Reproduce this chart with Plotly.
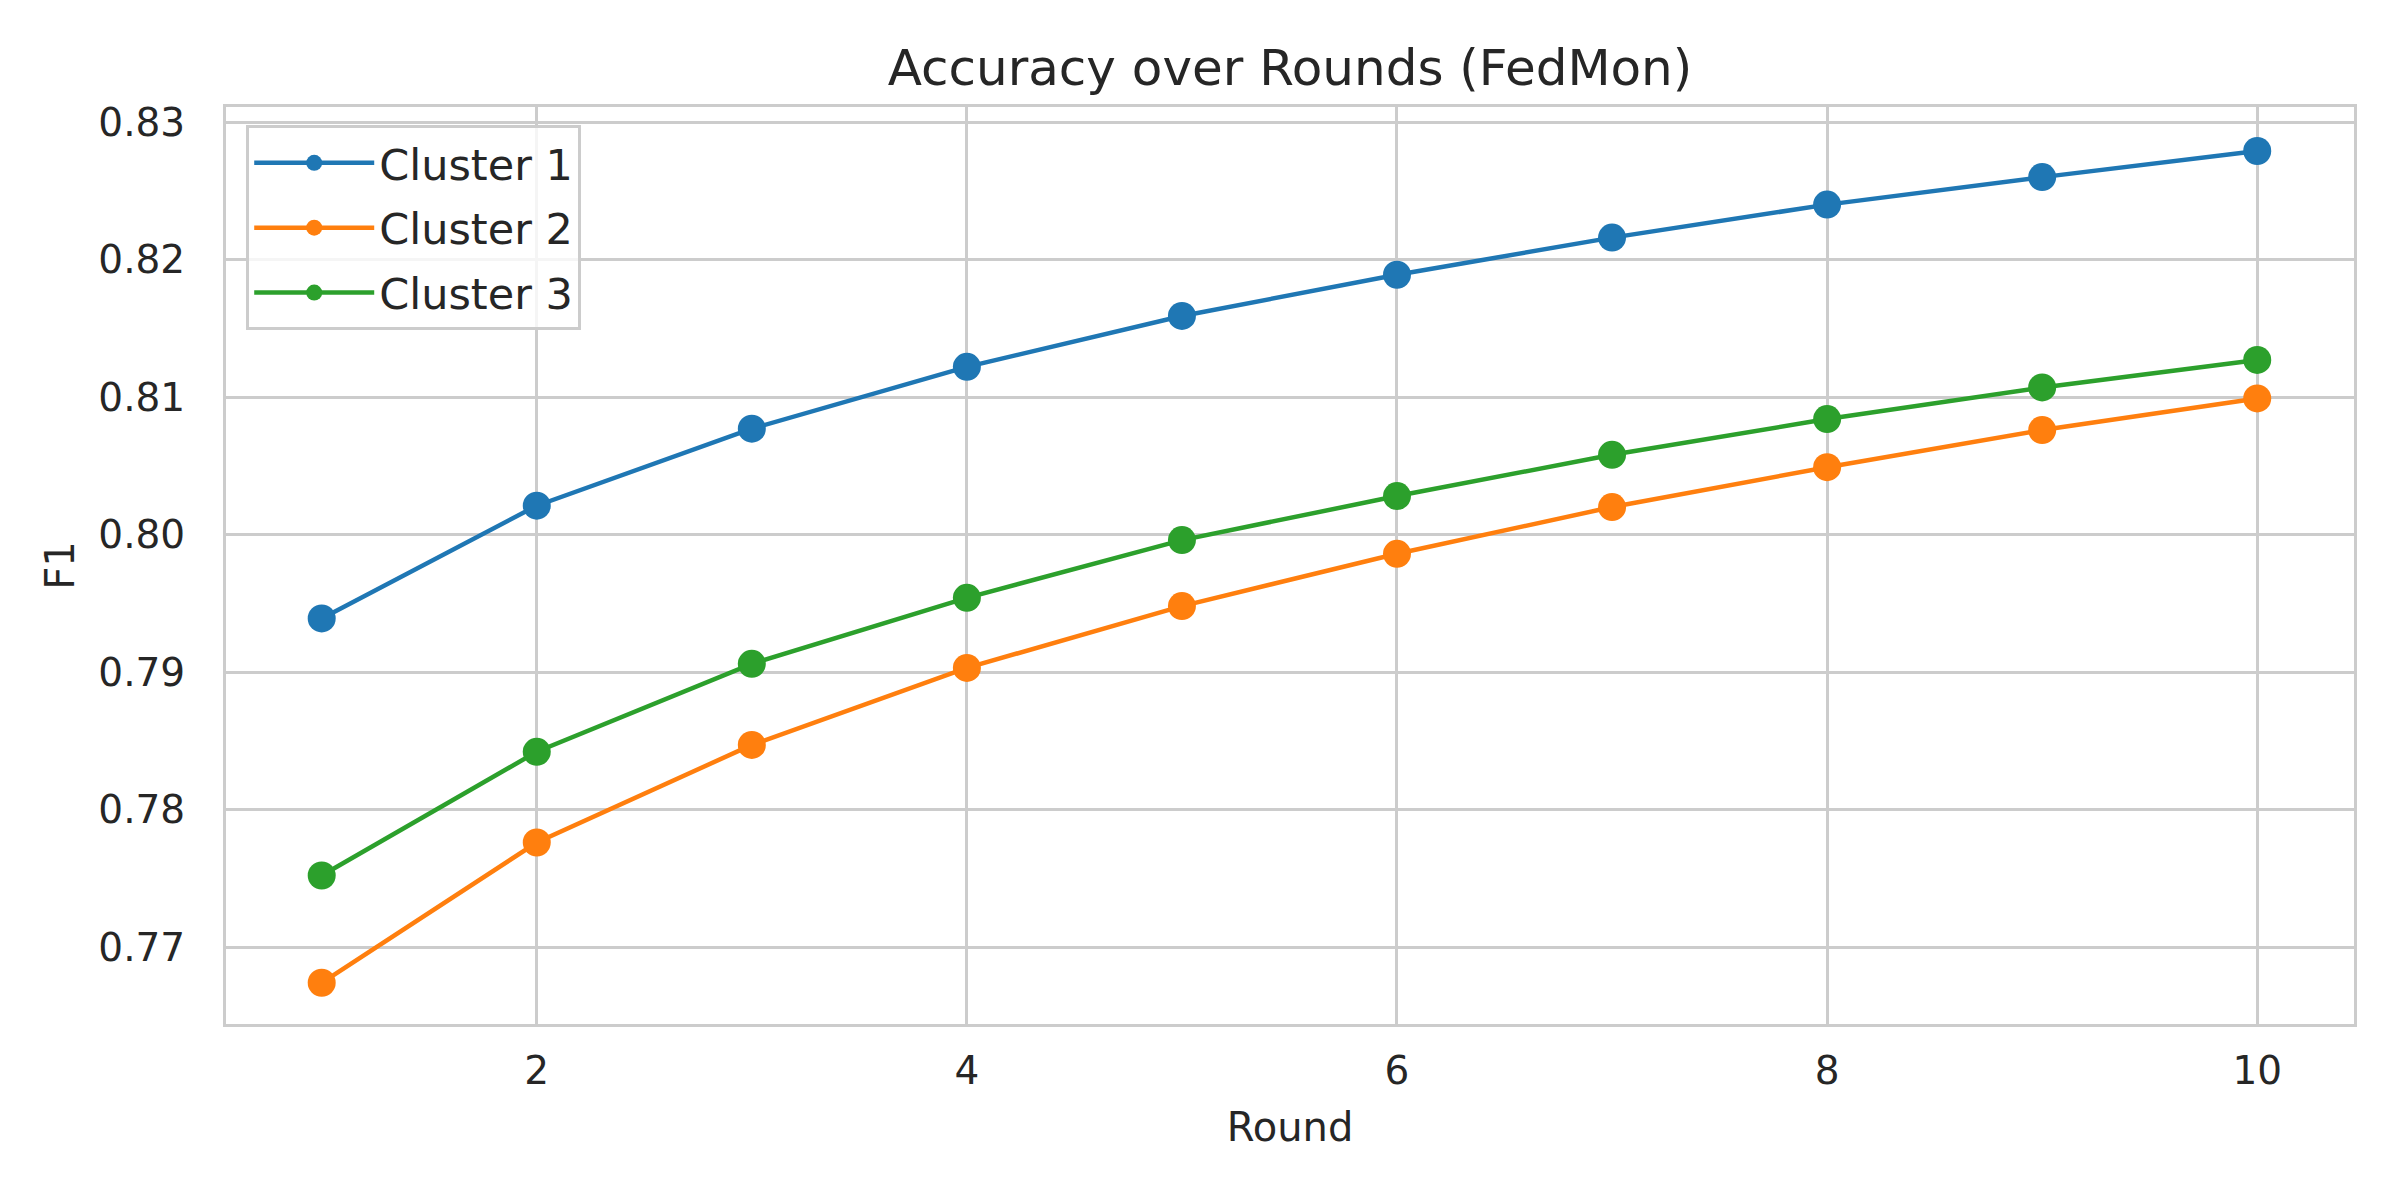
import plotly.graph_objects as go

rounds = [1, 2, 3, 4, 5, 6, 7, 8, 9, 10]

cluster_1 = [0.7939, 0.8021, 0.8077, 0.8122, 0.8159, 0.8189, 0.8216, 0.8240, 0.8260, 0.8279]
cluster_2 = [0.7674, 0.7776, 0.7847, 0.7903, 0.7948, 0.7986, 0.8020, 0.8049, 0.8076, 0.8099]
cluster_3 = [0.7752, 0.7842, 0.7906, 0.7954, 0.7996, 0.8028, 0.8058, 0.8084, 0.8107, 0.8127]

names = ["Cluster 1", "Cluster 2", "Cluster 3"]
colors = ["#1f77b4", "#ff7f0e", "#2ca02c"]

x_ticks = [2, 4, 6, 8, 10]
y_ticks = [0.77, 0.78, 0.79, 0.80, 0.81, 0.82, 0.83]

font_family = "DejaVu Sans"
text_color = "#262626"
grid_color = "#cccccc"

# the page puts an 8px body margin round the figure, so margins allow for it
fig = go.Figure()

for name, values, color in zip(names, [cluster_1, cluster_2, cluster_3], colors):
    fig.add_trace(
        go.Scatter(
            name=name,
            legendgroup=name,
            x=rounds,
            y=values,
            mode="lines+markers",
            line=dict(color=color, width=4.5),
            marker=dict(size=28, color=color),
        )
    )

fig.update_layout(
    width=2400,
    height=1200,
    paper_bgcolor="white",
    plot_bgcolor="white",
    margin=dict(l=218, r=54, t=99, b=184, autoexpand=False),
    font=dict(family=font_family, size=39, color=text_color),
    title=dict(
        text="Accuracy over Rounds (FedMon)",
        x=0.5,
        xref="paper",
        xanchor="center",
        y=1 - 59 / 1200,
        yref="container",
        yanchor="middle",
        font=dict(size=50, color=text_color),
    ),
    legend=dict(
        x=0.0095,
        y=0.98,
        xanchor="left",
        yanchor="top",
        bgcolor="rgba(255,255,255,0.8)",
        bordercolor=grid_color,
        borderwidth=3,
        font=dict(size=43, color=text_color),
        itemwidth=120,
        traceorder="grouped",
        tracegroupgap=6,
    ),
    showlegend=True,
)

fig.update_xaxes(
    title=dict(text="Round", font=dict(size=40), standoff=22),
    range=[0.555, 10.45],
    tickvals=x_ticks,
    showgrid=True,
    gridcolor=grid_color,
    gridwidth=2.5,
    showline=True,
    linecolor=grid_color,
    linewidth=3,
    mirror=True,
    ticks="",
    ticklabelstandoff=10,
    zeroline=False,
    automargin=False,
)

fig.update_yaxes(
    title=dict(text="F1", font=dict(size=40), standoff=12),
    range=[0.7644, 0.8311],
    tickvals=y_ticks,
    tickformat=".2f",
    showgrid=True,
    gridcolor=grid_color,
    gridwidth=2.5,
    showline=True,
    linecolor=grid_color,
    linewidth=3,
    mirror=True,
    ticks="",
    ticklabelstandoff=30,
    zeroline=False,
    automargin=False,
)

fig.write_html("out.html")
